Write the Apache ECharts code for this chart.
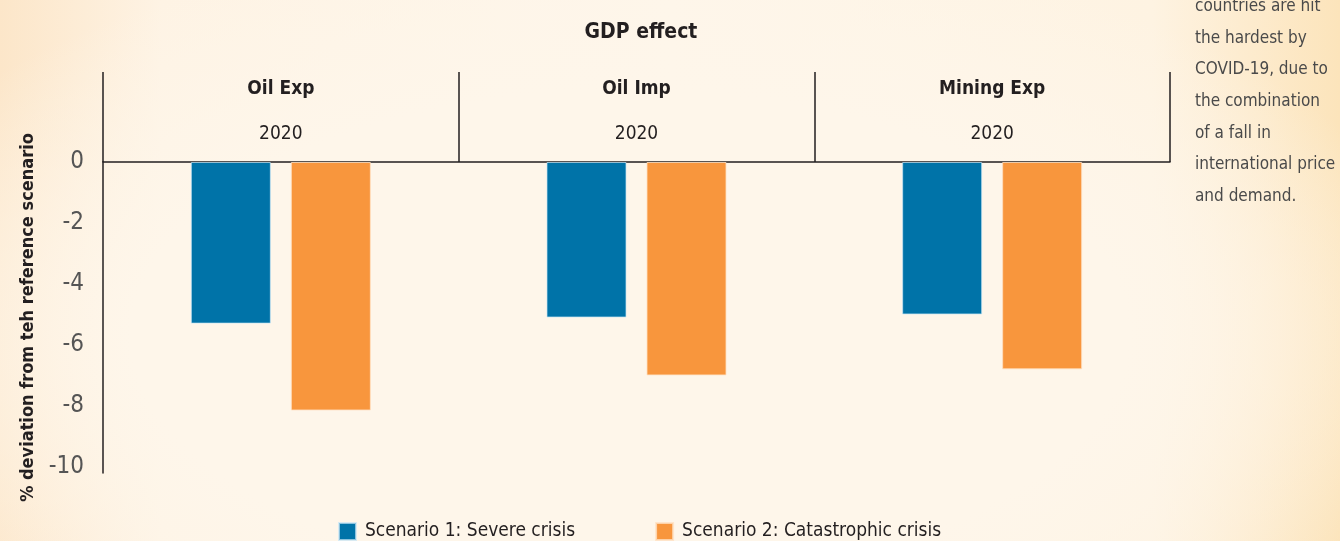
<!DOCTYPE html>
<html>
<head>
<meta charset="utf-8">
<title>GDP effect</title>
<script src="https://cdn.jsdelivr.net/npm/echarts@6/dist/echarts.min.js"></script>
<style>
  html, body { margin: 0; padding: 0; width: 1340px; height: 541px; overflow: hidden; }
  body {
    background:
      radial-gradient(ellipse 62% 75% at 47% 62%, rgba(254,246,234,1) 60%, rgba(254,246,234,0) 100%),
      linear-gradient(90deg, #FCE6C9 0%, #FEF3E4 12%, #FEF6EA 50%, #FEF3E2 86%, #FCE4BB 100%);
  }
  #chart { width: 1340px; height: 541px; }
</style>
</head>
<body>
<div id="chart"></div>
<script>
// Country groups and the year shown under each group name
const groups = ['Oil Exp', 'Oil Imp', 'Mining Exp'];
const year = '2020';

// GDP deviation (% from the reference scenario)
const severeCrisis = [-5.3, -5.1, -5.0];
const catastrophicCrisis = [-8.15, -7.0, -6.8];

// Value-axis labels
const yTicks = [0, -2, -4, -6, -8, -10];

// Side note lines
const noteLines = [
  'countries are hit',
  'the hardest by',
  'COVID-19, due to',
  'the combination',
  'of a fall in',
  'international price',
  'and demand.'
];

const FONT = '"DejaVu Sans Condensed", "Noto Sans", sans-serif';
const DARK = '#231f20';

const chart = echarts.init(document.getElementById('chart'), null, { renderer: 'canvas' });

chart.setOption({
  backgroundColor: 'transparent',
  animation: false,
  textStyle: { fontFamily: FONT },
  title: {
    text: 'GDP effect',
    left: 636,
    top: 17,
    textAlign: 'center',
    textStyle: { fontFamily: FONT, fontSize: 21, fontWeight: 'bold', color: DARK }
  },
  graphic: [{
    type: 'text',
    left: 1195,
    top: -9,
    style: {
      text: noteLines.join('\n'),
      font: '17px ' + FONT,
      fill: '#4a4a4a',
      lineHeight: 31.6
    }
  }],
  legend: {
    left: 333,
    top: 517,
    itemWidth: 17,
    itemHeight: 17,
    itemGap: 80,
    icon: 'rect',
    textStyle: { fontFamily: FONT, fontSize: 19, color: DARK, padding: [0, 0, 0, 4] },
    data: ['Scenario 1: Severe crisis', 'Scenario 2: Catastrophic crisis']
  },
  grid: { left: 103, right: 170, top: 162, bottom: 68, containLabel: false, outerBoundsMode: 'none' },
  xAxis: {
    type: 'category',
    position: 'top',
    data: groups,
    axisLine: { show: true, lineStyle: { color: DARK, width: 1.5 } },
    axisTick: { show: true, interval: 0, length: 90, lineStyle: { color: DARK, width: 1.5 } },
    axisLabel: {
      interval: 0,
      margin: 5,
      formatter: (v) => '{b|' + v + '}\n{y|' + year + '}',
      rich: {
        b: { fontFamily: FONT, fontSize: 19, fontWeight: 'bold', color: DARK, lineHeight: 45 },
        y: { fontFamily: FONT, fontSize: 19, color: DARK, lineHeight: 45 }
      }
    },
    splitLine: { show: false }
  },
  yAxis: {
    type: 'value',
    min: -10.2,
    max: 0,
    name: '% deviation from teh reference scenario',
    nameLocation: 'middle',
    nameGap: 66,
    nameTextStyle: { fontFamily: FONT, fontSize: 18, fontWeight: 'bold', color: DARK },
    axisLine: { show: true, lineStyle: { color: DARK, width: 1.5 } },
    axisTick: { show: false },
    splitLine: { show: false },
    axisLabel: {
      customValues: yTicks,
      margin: 19,
      fontFamily: FONT,
      fontSize: 24,
      color: '#555555'
    }
  },
  series: [
    {
      name: 'Scenario 1: Severe crisis',
      type: 'bar',
      data: severeCrisis,
      barWidth: 80,
      barGap: '25%',
      itemStyle: { color: '#0073A8', borderColor: 'rgba(200,230,245,0.7)', borderWidth: 1 }
    },
    {
      name: 'Scenario 2: Catastrophic crisis',
      type: 'bar',
      data: catastrophicCrisis,
      barWidth: 80,
      barGap: '25%',
      itemStyle: { color: '#F8963D', borderColor: 'rgba(255,225,195,0.8)', borderWidth: 1 }
    }
  ]
});
</script>
</body>
</html>
